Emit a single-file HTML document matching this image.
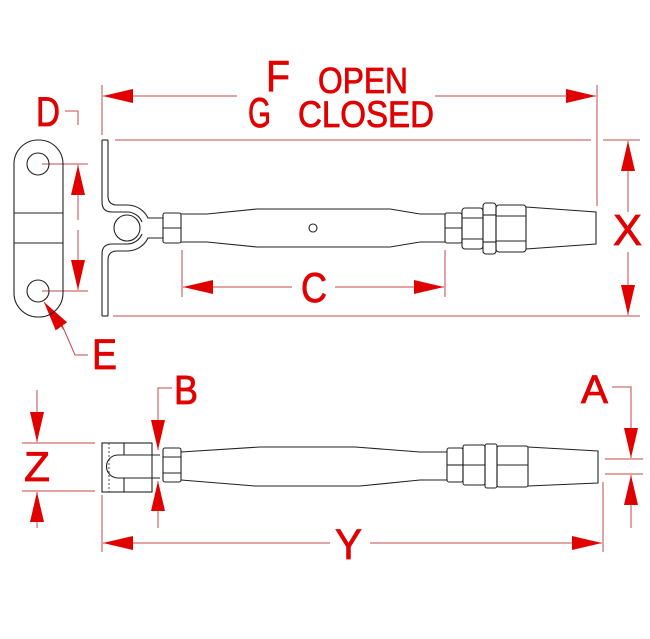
<!DOCTYPE html>
<html><head><style>
html,body{margin:0;padding:0;background:#fff;width:650px;height:639px;overflow:hidden}
svg{display:block}
text{font-family:"Liberation Sans",sans-serif;fill:#e00000;stroke:#e00000;stroke-width:0.8}
</style></head><body>
<svg width="650" height="639" viewBox="0 0 650 639" xmlns="http://www.w3.org/2000/svg">
<defs>
<marker id="a" markerWidth="30" markerHeight="14" refX="30" refY="7" orient="auto" markerUnits="userSpaceOnUse">
<path d="M0,0 L30,7 L0,14 Z" fill="#e00000"/></marker>
</defs>
<g stroke="#c24848" stroke-width="1" fill="none">
<line x1="102" y1="85" x2="102" y2="135"/>
<line x1="597" y1="85" x2="597" y2="206"/>
<line x1="237" y1="96" x2="103" y2="96" marker-end="url(#a)"/>
<line x1="435" y1="96" x2="596" y2="96" marker-end="url(#a)"/>
<line x1="115" y1="140" x2="591" y2="140"/>
<line x1="603" y1="140" x2="640" y2="140"/>
<line x1="113" y1="316" x2="640" y2="316"/>
<line x1="628" y1="212" x2="628" y2="141" marker-end="url(#a)"/>
<line x1="628" y1="252" x2="628" y2="315" marker-end="url(#a)"/>
<polyline points="65,111 78,111 78,125"/>
<line x1="78" y1="220" x2="78" y2="165" marker-end="url(#a)"/>
<line x1="78" y1="230" x2="78" y2="290" marker-end="url(#a)"/>
<line x1="42" y1="164" x2="88" y2="164"/>
<line x1="42" y1="291" x2="88" y2="291"/>
<line x1="182" y1="250" x2="182" y2="297"/>
<line x1="445" y1="250" x2="445" y2="297"/>
<line x1="292" y1="287" x2="183" y2="287" marker-end="url(#a)"/>
<line x1="335" y1="287" x2="444" y2="287" marker-end="url(#a)"/>
<polyline points="88,355 75,355 62,325"/>
<line x1="64" y1="330" x2="44" y2="302" marker-end="url(#a)"/>
<polyline points="172,388 158,388 158,410"/>
<line x1="158" y1="410" x2="158" y2="450" marker-end="url(#a)"/>
<line x1="158" y1="528" x2="158" y2="481" marker-end="url(#a)"/>
<line x1="37" y1="390" x2="37" y2="442" marker-end="url(#a)"/>
<line x1="37" y1="528" x2="37" y2="492" marker-end="url(#a)"/>
<line x1="22" y1="443" x2="95" y2="443"/>
<line x1="22" y1="491" x2="95" y2="491"/>
<polyline points="612,387 631,387 631,420"/>
<line x1="631" y1="420" x2="631" y2="458" marker-end="url(#a)"/>
<line x1="631" y1="528" x2="631" y2="475" marker-end="url(#a)"/>
<line x1="605" y1="459" x2="643" y2="459"/>
<line x1="605" y1="474" x2="643" y2="474"/>
<line x1="102" y1="495" x2="102" y2="552"/>
<line x1="603" y1="482" x2="603" y2="552"/>
<line x1="330" y1="543" x2="103" y2="543" marker-end="url(#a)"/>
<line x1="370" y1="543" x2="602" y2="543" marker-end="url(#a)"/>
</g>
<g stroke="#222" stroke-width="1.1" fill="none">
<rect x="14" y="140" width="49" height="177" rx="24"/>
<circle cx="38" cy="164" r="11"/><circle cx="38" cy="291" r="11"/>
<line x1="14" y1="213" x2="63" y2="213"/><line x1="14" y1="243" x2="63" y2="243"/>
<path d="M102,140 L108,140"/>
<path d="M102,316 L108,316"/>
<path d="M102,140 V202 Q102,212 112,212 L127,212 A16,16 0 0 1 142,222"/>
<path d="M108,140 V196 Q108,205 117,205 L127,205 A23,23 0 0 1 148,218 L163,218"/>
<path d="M102,316 V254 Q102,244 112,244 L127,244 A16,16 0 0 0 142,234"/>
<path d="M108,316 V260 Q108,251 117,251 L127,251 A23,23 0 0 0 148,238 L163,238"/>
<circle cx="127" cy="228" r="13"/>
<rect x="163" y="213" width="18" height="30" rx="2"/><line x1="163" y1="228" x2="181" y2="228"/>
<path d="M181,214 L207,214 L257,209 L390,209 L420,214 L445,214"/>
<path d="M181,242 L207,242 L257,247 L390,247 L420,242 L445,242"/>
<circle cx="313" cy="228" r="4"/>
<rect x="445" y="213" width="17" height="30" rx="2"/><line x1="445" y1="228" x2="462" y2="228"/>
<rect x="462" y="208" width="21" height="41" rx="3"/><line x1="462" y1="218" x2="483" y2="218"/><line x1="462" y1="239" x2="483" y2="239"/>
<rect x="483" y="203" width="13" height="51" rx="3"/><line x1="483" y1="215" x2="496" y2="215"/><line x1="483" y1="242" x2="496" y2="242"/>
<rect x="496" y="205" width="30" height="47" rx="3"/><line x1="496" y1="216" x2="526" y2="216"/><line x1="496" y1="241" x2="526" y2="241"/>
<path d="M526,207 L596,212 L596,244 L526,249"/>
<rect x="102" y="443" width="50" height="49"/>
<line x1="109" y1="443" x2="109" y2="492" stroke-dasharray="2,2" stroke-width="0.8"/>
<line x1="124" y1="443" x2="124" y2="455"/><line x1="124" y1="478" x2="124" y2="492"/>
<path d="M160,455 L118,455 A11.5,11.5 0 0 0 118,478 L160,478"/>
<rect x="163" y="448" width="18" height="34" rx="2"/><line x1="163" y1="457" x2="181" y2="457"/><line x1="163" y1="473" x2="181" y2="473"/>
<path d="M181,452 L260,447 L355,447 L420,452 L447,452"/>
<path d="M181,480 L255,486 L360,486 L420,480 L447,480"/>
<rect x="447" y="448" width="16" height="34" rx="2"/><line x1="447" y1="465" x2="463" y2="465"/>
<rect x="463" y="445" width="22" height="40" rx="2"/><line x1="463" y1="465" x2="485" y2="465"/>
<rect x="485" y="444" width="12" height="44" rx="2"/>
<rect x="497" y="446" width="31" height="41" rx="2"/><line x1="497" y1="465" x2="528" y2="465"/>
<path d="M528,447 L598,451 L598,483 L528,486"/>
</g>
<g lengthAdjust="spacingAndGlyphs">
<text x="36" y="126" font-size="42" textLength="24" lengthAdjust="spacingAndGlyphs">D</text>
<text x="266" y="91" font-size="44" textLength="24" lengthAdjust="spacingAndGlyphs">F</text>
<text x="318" y="93" font-size="36" textLength="90" lengthAdjust="spacingAndGlyphs">OPEN</text>
<text x="248" y="127" font-size="42" textLength="23" lengthAdjust="spacingAndGlyphs">G</text>
<text x="298" y="127" font-size="37" textLength="136" lengthAdjust="spacingAndGlyphs">CLOSED</text>
<text x="613" y="245" font-size="44" textLength="29" lengthAdjust="spacingAndGlyphs">X</text>
<text x="301" y="302" font-size="42" textLength="26" lengthAdjust="spacingAndGlyphs">C</text>
<text x="92" y="369" font-size="43" textLength="25" lengthAdjust="spacingAndGlyphs">E</text>
<text x="174" y="404" font-size="41" textLength="24" lengthAdjust="spacingAndGlyphs">B</text>
<text x="581" y="403" font-size="40" textLength="27" lengthAdjust="spacingAndGlyphs">A</text>
<text x="24" y="481" font-size="42" textLength="26" lengthAdjust="spacingAndGlyphs">Z</text>
<text x="335" y="559" font-size="43" textLength="27" lengthAdjust="spacingAndGlyphs">Y</text>
</g>
</svg>
</body></html>
